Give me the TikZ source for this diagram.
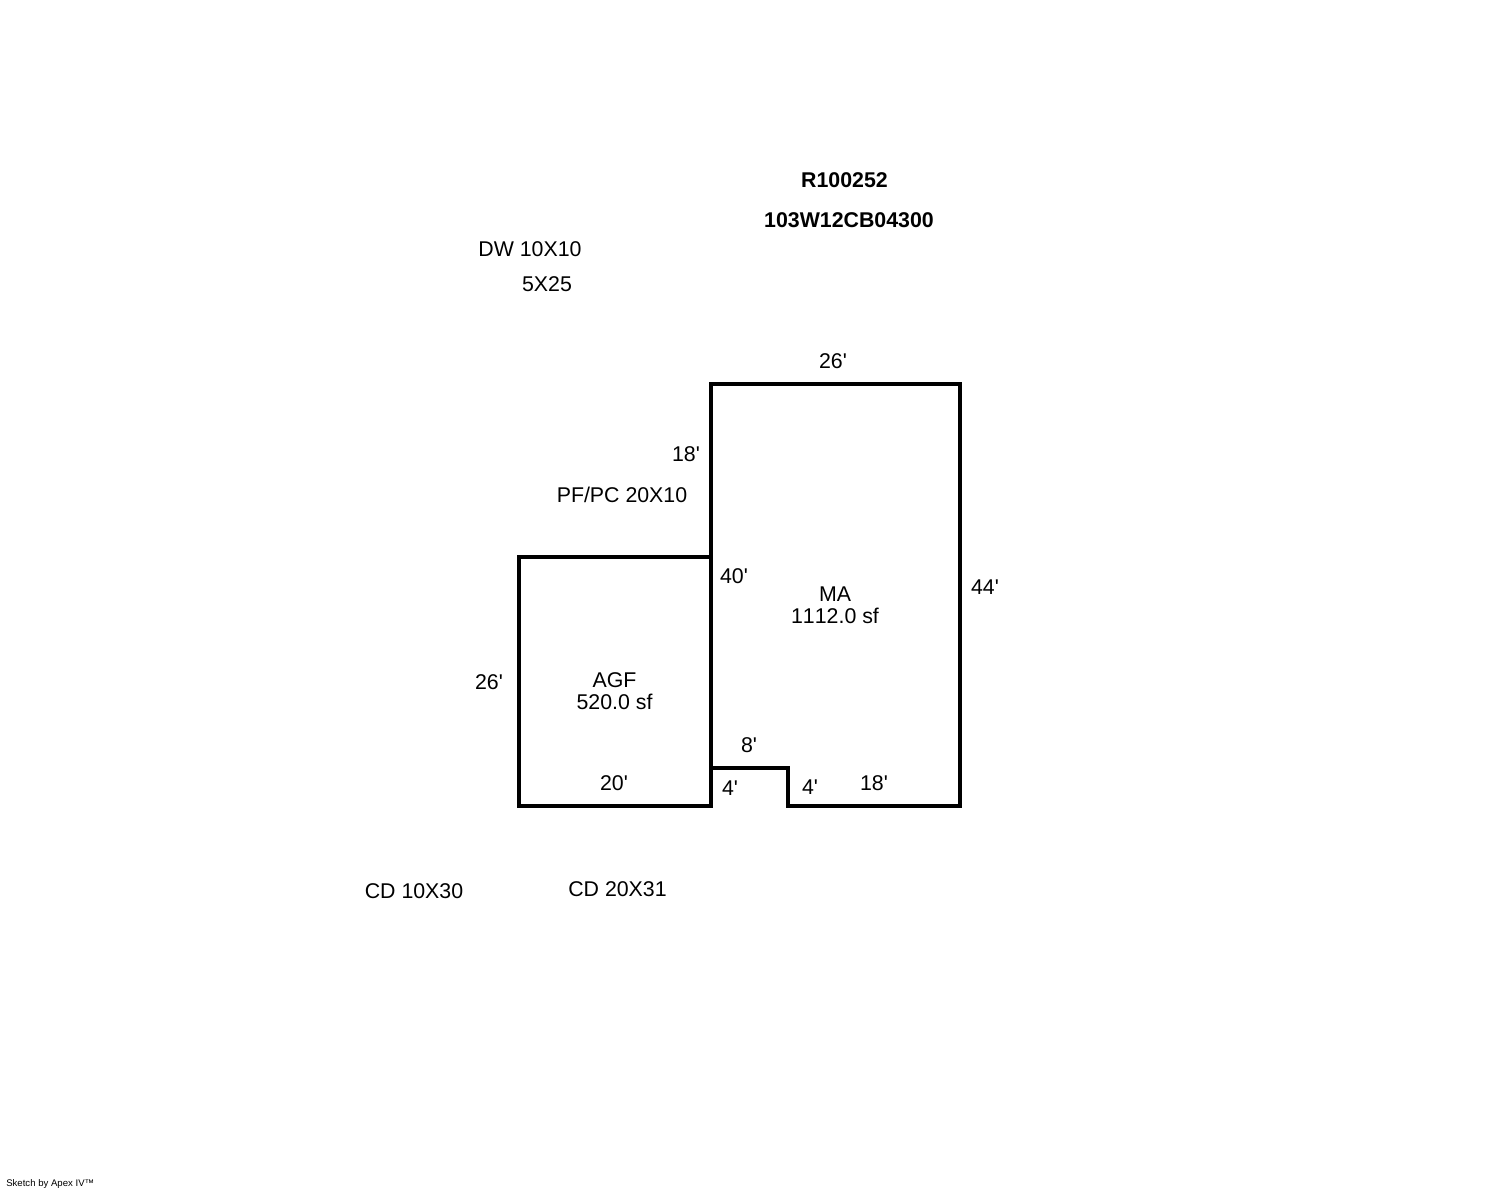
\documentclass[tikz,border=0pt]{standalone}
\usepackage{fontspec}
\newfontfamily\planfont[Kerning=Off]{Liberation Sans}
\usetikzlibrary{positioning}
\tikzset{
    wall/.style={line width=3pt, line join=miter, black},
    dimlabel/.style={inner sep=0pt, font=\planfont\fontsize{16}{16.5}\selectfont, align=center},
    titlelabel/.style={inner sep=0pt, font=\planfont\fontsize{16}{16.5}\selectfont\bfseries},
    footlabel/.style={inner sep=0pt, font=\planfont\fontsize{7.2}{9}\selectfont}
}
\begin{document}
\begin{tikzpicture}[x=0.75pt,y=-0.75pt]
        \useasboundingbox (0,0) rectangle (1488,1190);
        \draw [wall] (711,384) -- (960,384) -- (960,806) -- (788,806) -- (788,768) -- (711,768) -- cycle;
        \draw [wall] (711,557) -- (519,557) -- (519,806) -- (711,806) -- (711,768);
        \node [titlelabel] (parcel) at (844.5,180) {R100252};
        \node [titlelabel] (mapno) at (849,220) {103W12CB04300};
        \foreach \name/\x/\y/\txt in {dw/530/249/DW 10X10, dwb/547/284/5X25, pf/622/495/{PF/PC 20X10},
            cda/414/891/CD 10X30, cdb/617.5/889/CD 20X31, top/833/361/26',
            ll/686/454/18', lm/734/576/40', rr/985/587/44', agfl/489/682/26', agfb/614/783/20',
            notcht/749/745/8', notchl/730/788/4', notchr/810/787/4', mab/874/783/18'}
            \node [dimlabel] (\name) at (\x,\y) {\txt};
        \node [dimlabel] (ma) at (835,605) {MA\\1112.0 sf};
        \node [dimlabel] (agf) at (614.5,691.5) {AGF\\520.0 sf};
        \node [footlabel, anchor=west] (apex) at (6,1184) {Sketch by Apex IV™};
    \end{tikzpicture}
\end{document}
